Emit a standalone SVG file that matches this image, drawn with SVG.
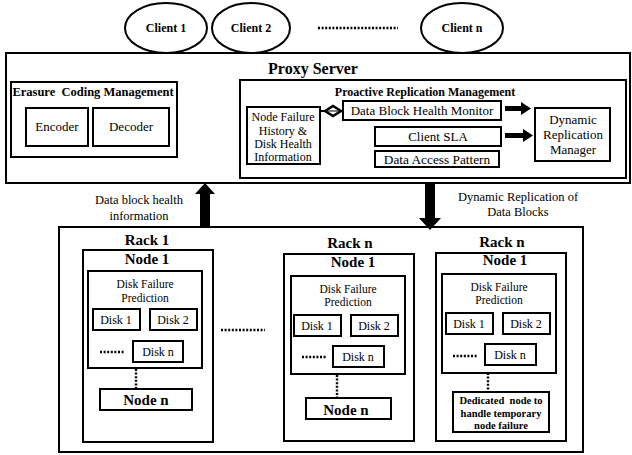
<svg xmlns="http://www.w3.org/2000/svg" width="632" height="455" viewBox="0 0 632 455">
  <style>
    .box { fill: #fff; stroke: #000; stroke-width: 2; }
    .t { font-family: "Liberation Serif", "Times New Roman", serif; fill: #000; text-anchor: middle; }
    .b { font-weight: bold; }
    .dots { stroke: #000; stroke-width: 2.4; stroke-dasharray: 2 1.6; fill: none; }
    .solid { fill: #000; stroke: none; }
  </style>

  <!-- clients -->
  <g id="client-1">
    <ellipse cx="166" cy="28" rx="41" ry="25" class="box"/>
    <text x="166" y="32" class="t b" font-size="12">Client 1</text>
  </g>
  <g id="client-2">
    <ellipse cx="251" cy="28" rx="39" ry="25" class="box"/>
    <text x="251" y="32" class="t b" font-size="12">Client 2</text>
  </g>
  <g id="client-dots">
    <line x1="318" y1="28" x2="398" y2="28" class="dots"/>
  </g>
  <g id="client-n">
    <ellipse cx="462" cy="28" rx="41" ry="25" class="box"/>
    <text x="462" y="32" class="t b" font-size="12">Client n</text>
  </g>

  <!-- proxy server -->
  <g id="proxy-server">
    <rect x="6" y="53" width="624" height="130" class="box"/>
    <text x="313" y="74" class="t b" font-size="16">Proxy Server</text>
  </g>

  <g id="erasure-coding">
    <rect x="11" y="82" width="166" height="75" class="box"/>
    <text x="93" y="96" class="t b" font-size="12.5" xml:space="preserve">Erasure  Coding Management</text>
  </g>
  <g id="encoder">
    <rect x="26" y="108" width="62" height="38" class="box"/>
    <text x="57" y="131" class="t" font-size="13">Encoder</text>
  </g>
  <g id="decoder">
    <rect x="93" y="108" width="76" height="38" class="box"/>
    <text x="131" y="131" class="t" font-size="13">Decoder</text>
  </g>

  <g id="proactive-replication">
    <rect x="240" y="80" width="386" height="98" class="box"/>
    <text x="425" y="96" class="t b" font-size="12">Proactive Replication Management</text>
  </g>
  <g id="node-failure-history">
    <rect x="247" y="107" width="73" height="57" class="box"/>
    <text x="283" y="121" class="t" font-size="12">Node Failure</text>
    <text x="283" y="135" class="t" font-size="12">History &amp;</text>
    <text x="283" y="148" class="t" font-size="12">Disk Health</text>
    <text x="283" y="161" class="t" font-size="12">Information</text>
  </g>
  <g id="health-monitor">
    <rect x="343" y="101" width="158" height="19" class="box"/>
    <text x="422" y="115" class="t" font-size="13">Data Block Health Monitor</text>
  </g>
  <g id="client-sla">
    <rect x="375" y="127" width="126" height="19" class="box"/>
    <text x="438" y="141" class="t" font-size="13">Client SLA</text>
  </g>
  <g id="access-pattern">
    <rect x="375" y="151" width="124" height="16" class="box"/>
    <text x="437" y="164" class="t" font-size="13.3">Data Access Pattern</text>
  </g>
  <g id="replication-manager">
    <rect x="535" y="108" width="75" height="53" class="box"/>
    <text x="573" y="124" class="t" font-size="13">Dynamic</text>
    <text x="573" y="139" class="t" font-size="13">Replication</text>
    <text x="573" y="154" class="t" font-size="13">Manager</text>
  </g>

  <!-- racks -->
  <g id="rack-container">
    <rect x="59" y="227" width="524" height="225" class="box"/>
  </g>

  <g id="rack-1">
    <text x="147" y="245" class="t b" font-size="15">Rack 1</text>
    <rect x="83" y="250" width="130" height="192" class="box"/>
    <text x="147" y="264" class="t b" font-size="15">Node 1</text>
    <rect x="88" y="271" width="114" height="97" class="box"/>
    <text x="145" y="288" class="t" font-size="11.5">Disk Failure</text>
    <text x="145" y="302" class="t" font-size="11.5">Prediction</text>
    <rect x="93" y="309" width="47" height="21" class="box"/>
    <text x="116" y="324" class="t" font-size="12">Disk 1</text>
    <rect x="150" y="309" width="47" height="21" class="box"/>
    <text x="173" y="324" class="t" font-size="12">Disk 2</text>
    <line x1="100" y1="352" x2="125" y2="352" class="dots"/>
    <rect x="133" y="341" width="50" height="21" class="box"/>
    <text x="158" y="356" class="t" font-size="12">Disk n</text>
    <line x1="136" y1="369" x2="136" y2="389" class="dots"/>
    <rect x="100" y="389" width="92" height="21" class="box"/>
    <text x="146" y="405" class="t b" font-size="15">Node n</text>
  </g>

  <g id="rack-gap-dots">
    <line x1="221" y1="330" x2="265" y2="330" class="dots"/>
  </g>

  <g id="rack-n-a">
    <text x="350" y="248" class="t b" font-size="15">Rack n</text>
    <rect x="284" y="254" width="130" height="187" class="box"/>
    <text x="353" y="267" class="t b" font-size="15">Node 1</text>
    <rect x="291" y="276" width="114" height="98" class="box"/>
    <text x="348" y="293" class="t" font-size="11.5">Disk Failure</text>
    <text x="348" y="306" class="t" font-size="11.5">Prediction</text>
    <rect x="294" y="315" width="47" height="21" class="box"/>
    <text x="317" y="330" class="t" font-size="12">Disk 1</text>
    <rect x="351" y="315" width="47" height="21" class="box"/>
    <text x="374" y="330" class="t" font-size="12">Disk 2</text>
    <line x1="302" y1="357" x2="327" y2="357" class="dots"/>
    <rect x="333" y="346" width="51" height="21" class="box"/>
    <text x="358" y="361" class="t" font-size="12">Disk n</text>
    <line x1="337" y1="375" x2="337" y2="398" class="dots"/>
    <rect x="306" y="398" width="85" height="21" class="box"/>
    <text x="346" y="415" class="t b" font-size="15">Node n</text>
  </g>

  <g id="rack-n-b">
    <text x="502" y="247" class="t b" font-size="15">Rack n</text>
    <rect x="436" y="253" width="130" height="188" class="box"/>
    <text x="505" y="265" class="t b" font-size="15">Node 1</text>
    <rect x="442" y="274" width="114" height="99" class="box"/>
    <text x="499" y="291" class="t" font-size="11.5">Disk Failure</text>
    <text x="499" y="304" class="t" font-size="11.5">Prediction</text>
    <rect x="446" y="313" width="47" height="21" class="box"/>
    <text x="469" y="328" class="t" font-size="12">Disk 1</text>
    <rect x="503" y="313" width="47" height="21" class="box"/>
    <text x="526" y="328" class="t" font-size="12">Disk 2</text>
    <line x1="453" y1="356" x2="478" y2="356" class="dots"/>
    <rect x="485" y="344" width="51" height="21" class="box"/>
    <text x="510" y="359" class="t" font-size="12">Disk n</text>
    <line x1="488" y1="373" x2="488" y2="392" class="dots"/>
    <rect x="453" y="392" width="96" height="40" class="box"/>
    <text x="501" y="404" class="t b" font-size="10.5" xml:space="preserve">Dedicated  node to</text>
    <text x="501" y="417" class="t b" font-size="10.5">handle temporary</text>
    <text x="501" y="429" class="t b" font-size="10.5">node failure</text>
  </g>

  <!-- connectors -->
  <g id="connectors">
    <!-- history to health monitor link -->
    <line x1="320" y1="111" x2="343" y2="111" stroke="#000" stroke-width="2"/>
    <polygon points="325,111 333,106 341,111 333,116" fill="#fff" stroke="#000" stroke-width="2.5"/>
    <line x1="327" y1="111" x2="339" y2="111" stroke="#000" stroke-width="1"/>
    <!-- inputs to replication manager -->
    <polygon class="solid" points="505,106 521,106 521,102 531,108.5 521,115 521,111 505,111"/>
    <polygon class="solid" points="505,133 523,133 523,129 533,135.5 523,142 523,138 505,138"/>
    <!-- health information up to proxy -->
    <polygon class="solid" points="200,228 210,228 210,194 215,194 205,183 195,194 200,194"/>
    <text x="139" y="204" class="t" font-size="12.5">Data block health</text>
    <text x="139" y="220" class="t" font-size="12.5">information</text>
    <!-- replication down to racks -->
    <polygon class="solid" points="425,183 435,183 435,218 441,218 430,230 419,218 425,218"/>
    <text x="518" y="201" class="t" font-size="12.5">Dynamic Replication of</text>
    <text x="518" y="216" class="t" font-size="12.5">Data Blocks</text>
  </g>
</svg>
